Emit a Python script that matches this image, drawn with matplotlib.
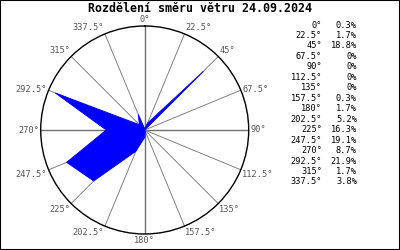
import numpy as np
import matplotlib
matplotlib.use("Agg")
import matplotlib.pyplot as plt
from matplotlib.patches import Rectangle

title = "Rozdělení směru větru 24.09.2024"
directions = [0, 22.5, 45, 67.5, 90, 112.5, 135, 157.5, 180, 202.5, 225, 247.5, 270, 292.5, 315, 337.5]
dir_labels = ["0°", "22.5°", "45°", "67.5°", "90°", "112.5°", "135°", "157.5°",
              "180°", "202.5°", "225°", "247.5°", "270°", "292.5°", "315°", "337.5°"]
percent = [0.3, 1.7, 18.8, 0, 0, 0, 0, 0.3, 1.7, 5.2, 16.3, 19.1, 8.7, 21.9, 1.7, 3.8]

rmax = 23.5
mono = "DejaVu Sans Mono"
cx, cy, rad = 144.7, 130.0, 104.0

fig = plt.figure(figsize=(4, 2.5), dpi=100)
fig.patch.set_facecolor("white")
ax = fig.add_axes([(cx - rad) / 400, (250 - cy - rad) / 250, 2 * rad / 400, 2 * rad / 250],
                  projection="polar")
ax.set_theta_zero_location("N")
ax.set_theta_direction(-1)
ax.set_ylim(0, rmax)
ax.set_yticks([])
ax.set_xticks(np.deg2rad(directions))
ax.set_xticklabels([])
ax.tick_params(axis="x", length=0)
ax.grid(True, axis="x")
for i, gl in enumerate(ax.xaxis.get_gridlines()):
    if i % 4 == 0:
        gl.set_color("#707070")
        gl.set_linewidth(1.0)
    else:
        gl.set_color("#808080")
        gl.set_linewidth(0.7)
    gl.set_linestyle("-")
ax.spines["polar"].set_color("black")
ax.spines["polar"].set_linewidth(1.0)

th = np.deg2rad(directions + [directions[0]])
rr = percent + [percent[0]]
ax.fill(th, rr, facecolor="#0000ff", edgecolor="#0000ff", lw=0.6, zorder=4)

for d, lab in zip(directions, dir_labels):
    t = np.deg2rad(d)
    sx, cyv = np.sin(t), np.cos(t)
    ha = "center" if abs(sx) < 1e-6 else ("left" if sx > 0 else "right")
    if cyv > 0.5:
        va = "bottom"
    elif cyv > -1e-6:
        va = "center"
    else:
        va = "top"
    ax.text(t, rmax * 1.015, lab, ha=ha, va=va, fontsize=6.2, family=mono,
            color="#555555", clip_on=False)

fig.text(200 / 400, 1 - 9 / 250, title, ha="center", va="center",
         fontsize=8.4, family=mono, fontweight="bold", color="black")

y0, dy = 25, (182 - 25) / 15
for i, (lab, p) in enumerate(zip(dir_labels, percent)):
    y = 1 - (y0 + i * dy) / 250
    fig.text(322 / 400, y, lab, ha="right", va="center", fontsize=6.2, family=mono, color="black")
    fig.text(357 / 400, y, f"{p:g}%", ha="right", va="center", fontsize=6.2, family=mono, color="black")

fig.patches.append(Rectangle((0, 0), 1, 1, transform=fig.transFigure, fill=False,
                             edgecolor="black", lw=1.5, figure=fig))

fig.savefig("out.png", dpi=100)
